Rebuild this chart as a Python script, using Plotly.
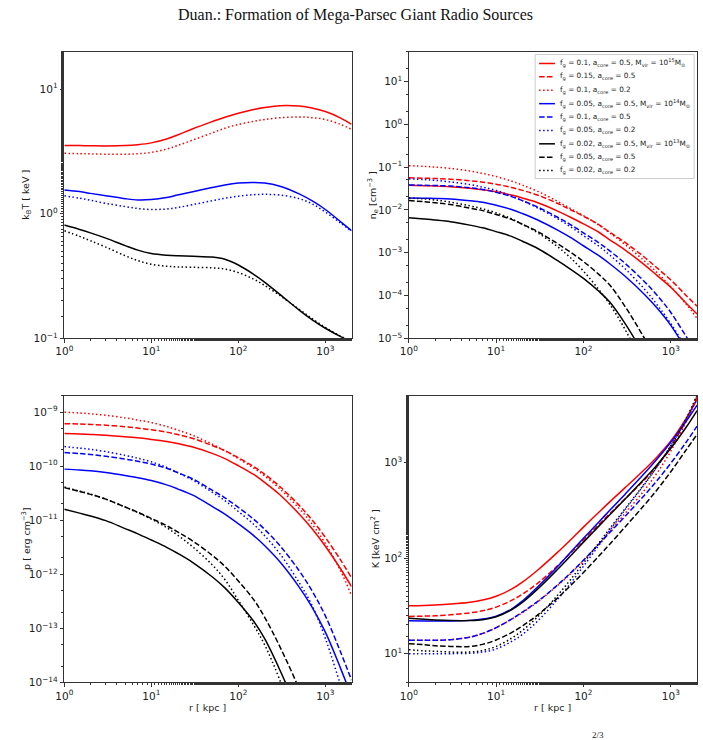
import plotly.graph_objects as go
import math

W, H = 703, 740

# ---------------- data ----------------
R_KPC = [1, 1.5, 2, 3, 5, 7, 10, 15, 20, 30, 50, 70, 100, 150, 200, 300, 500, 700, 1000, 1500, 2000]

# temperature kT [keV]
T_RED_SOLID = [3.53, 3.52, 3.51, 3.50, 3.52, 3.58, 3.70, 3.97, 4.28, 4.80, 5.48, 5.95, 6.40, 6.85, 7.10, 7.35, 7.30, 7.05, 6.60, 5.85, 5.20]
T_RED_DOT = [3.05, 3.03, 3.02, 3.00, 3.00, 3.03, 3.10, 3.30, 3.52, 3.90, 4.45, 4.85, 5.20, 5.50, 5.70, 5.88, 5.97, 5.90, 5.70, 5.20, 4.75]
T_BLUE_SOLID = [1.55, 1.505, 1.455, 1.39, 1.32, 1.29, 1.30, 1.35, 1.41, 1.50, 1.62, 1.70, 1.76, 1.78, 1.76, 1.66, 1.44, 1.27, 1.08, 0.86, 0.73]
T_BLUE_DOT = [1.39, 1.33, 1.28, 1.21, 1.14, 1.10, 1.08, 1.09, 1.12, 1.18, 1.27, 1.33, 1.38, 1.42, 1.43, 1.41, 1.32, 1.20, 1.03, 0.84, 0.72]
T_BLACK_SOLID = [0.81, 0.747, 0.701, 0.636, 0.554, 0.5095, 0.4795, 0.464, 0.4587, 0.455, 0.448, 0.4305, 0.387, 0.326, 0.2826, 0.2252, 0.1683, 0.1413, 0.1203, 0.1031, 0.0938]
T_BLACK_DOT = [0.73, 0.657, 0.606, 0.539, 0.46, 0.42, 0.3925, 0.3784, 0.374, 0.371, 0.3674, 0.3589, 0.3365, 0.298, 0.2655, 0.2204, 0.1707, 0.1442, 0.122, 0.1037, 0.094]

# electron density n_e [cm^-3]
N_RED_SOLID = [0.0375, 0.0368, 0.036, 0.0346, 0.032, 0.0296, 0.0265, 0.0222, 0.019, 0.0147, 0.0095, 0.0068, 0.0047, 0.0030, 0.0020, 0.00115, 5.2e-4, 2.9e-4, 1.55e-4, 6.6e-5, 3.7e-5]
N_RED_DASH = [0.056, 0.055, 0.054, 0.052, 0.048, 0.0444, 0.0398, 0.0333, 0.0285, 0.022, 0.0143, 0.0102, 0.0071, 0.0045, 0.0030, 0.00173, 7.8e-4, 4.35e-4, 2.3e-4, 1.0e-4, 5.6e-5]
N_RED_DOT = [0.108, 0.104, 0.100, 0.093, 0.081, 0.071, 0.060, 0.047, 0.038, 0.027, 0.0160, 0.0109, 0.0073, 0.0044, 0.0029, 0.00155, 6.4e-4, 3.4e-4, 1.6e-4, 6.3e-5, 2.9e-5]
N_BLUE_SOLID = [0.019, 0.0188, 0.0185, 0.018, 0.0164, 0.015, 0.0128, 0.0102, 0.0082, 0.0058, 0.0034, 0.0023, 0.00145, 8.5e-4, 5.5e-4, 2.8e-4, 1.05e-4, 5.0e-5, 2.0e-5, 5.5e-6, 2.2e-6]
N_BLUE_DASH = [0.038, 0.0376, 0.037, 0.036, 0.0328, 0.030, 0.0256, 0.0204, 0.0164, 0.0116, 0.0068, 0.0046, 0.0029, 0.0017, 0.0011, 5.6e-4, 2.1e-4, 1.0e-4, 4.0e-5, 1.1e-5, 4.4e-6]
N_BLUE_DOT = [0.053, 0.051, 0.049, 0.045, 0.039, 0.034, 0.0285, 0.021, 0.0165, 0.011, 0.0063, 0.0041, 0.0025, 0.00142, 8.8e-4, 4.2e-4, 1.4e-4, 6.0e-5, 2.2e-5, 6.0e-6, 2.4e-6]
N_BLACK_SOLID = [0.0065, 0.0061, 0.0058, 0.0053, 0.0044, 0.0038, 0.0031, 0.0024, 0.00185, 0.00125, 6.6e-4, 4.2e-4, 2.5e-4, 1.25e-4, 7.0e-5, 2.2e-5, 4.0e-6, 1.3e-6, 3.5e-7, 7e-8, 2e-8]
N_BLACK_DASH = [0.0165, 0.0155, 0.0147, 0.0133, 0.011, 0.0096, 0.0078, 0.0060, 0.0046, 0.0031, 0.00165, 0.00105, 6.2e-4, 3.1e-4, 1.75e-4, 5.5e-5, 1.0e-5, 3.2e-6, 9e-7, 1.8e-7, 5e-8]
N_BLACK_DOT = [0.019, 0.018, 0.017, 0.0152, 0.0124, 0.0106, 0.0085, 0.0062, 0.0046, 0.0029, 0.0014, 7.8e-4, 3.7e-4, 1.37e-4, 6.2e-5, 1.6e-5, 2.1e-6, 5e-7, 1e-7, 1.5e-8, 4e-9]

# pressure p [erg cm^-3]
P_RED_SOLID = [4.0e-10, 3.93e-10, 3.85e-10, 3.72e-10, 3.5e-10, 3.33e-10, 3.12e-10, 2.85e-10, 2.62e-10, 2.25e-10, 1.72e-10, 1.38e-10, 1.02e-10, 7.0e-11, 5.0e-11, 2.96e-11, 1.3e-11, 7.0e-12, 3.3e-12, 1.25e-12, 5.9e-13]
P_RED_DASH = [6.1e-10, 6.0e-10, 5.9e-10, 5.7e-10, 5.35e-10, 5.05e-10, 4.7e-10, 4.25e-10, 3.85e-10, 3.25e-10, 2.4e-10, 1.93e-10, 1.43e-10, 9.8e-11, 7.1e-11, 4.2e-11, 1.88e-11, 1.02e-11, 4.8e-12, 1.82e-12, 8.6e-13]
P_RED_DOT = [1.0e-9, 9.6e-10, 9.3e-10, 8.7e-10, 7.8e-10, 7.1e-10, 6.4e-10, 5.4e-10, 4.65e-10, 3.7e-10, 2.55e-10, 1.93e-10, 1.38e-10, 9.2e-11, 6.6e-11, 3.8e-11, 1.65e-11, 8.6e-12, 3.7e-12, 1.15e-12, 4.0e-13]
P_BLUE_SOLID = [8.8e-11, 8.5e-11, 8.2e-11, 7.6e-11, 6.7e-11, 6.1e-11, 5.4e-11, 4.5e-11, 3.8e-11, 2.9e-11, 1.8e-11, 1.3e-11, 8.6e-12, 5.2e-12, 3.4e-12, 1.7e-12, 5.8e-13, 2.5e-13, 8.5e-14, 1.8e-14, 5.5e-15]
P_BLUE_DASH = [1.78e-10, 1.71e-10, 1.64e-10, 1.52e-10, 1.35e-10, 1.23e-10, 1.09e-10, 9.1e-11, 7.6e-11, 5.8e-11, 3.6e-11, 2.6e-11, 1.72e-11, 1.04e-11, 6.8e-12, 3.4e-12, 1.16e-12, 5.0e-13, 1.7e-13, 3.6e-14, 1.1e-14]
P_BLUE_DOT = [2.3e-10, 2.15e-10, 2.05e-10, 1.85e-10, 1.58e-10, 1.4e-10, 1.2e-10, 9.5e-11, 7.6e-11, 5.5e-11, 3.3e-11, 2.3e-11, 1.45e-11, 8.4e-12, 5.2e-12, 2.4e-12, 7.0e-13, 2.7e-13, 6.5e-14, 9e-15, 2.5e-15]
P_BLACK_SOLID = [1.6e-11, 1.35e-11, 1.2e-11, 9.8e-12, 7.0e-12, 5.6e-12, 4.3e-12, 3.15e-12, 2.45e-12, 1.65e-12, 9.0e-13, 5.6e-13, 3.0e-13, 1.35e-13, 6.5e-14, 1.7e-14, 2.5e-15, 6e-16, 1.2e-16, 2e-17, 6e-18]
P_BLACK_DASH = [4.0e-11, 3.4e-11, 3.0e-11, 2.45e-11, 1.75e-11, 1.4e-11, 1.08e-11, 7.9e-12, 6.1e-12, 4.1e-12, 2.25e-12, 1.4e-12, 7.5e-13, 3.4e-13, 1.62e-13, 4.6e-14, 7.5e-15, 1.8e-15, 3.5e-16, 6e-17, 1.8e-17]
P_BLACK_DOT = [4.1e-11, 3.45e-11, 3.05e-11, 2.45e-11, 1.75e-11, 1.38e-11, 1.05e-11, 7.3e-12, 5.3e-12, 3.2e-12, 1.5e-12, 8.0e-13, 3.3e-13, 1.15e-13, 5.0e-14, 1.1e-14, 1.0e-15, 2e-16, 3e-17, 4e-18, 1e-18]

# entropy K [keV cm^2]
K_RED_SOLID = [31.8, 32.0, 32.3, 33.0, 34.5, 36.4, 39.9, 47.3, 56.0, 75, 114, 153, 211, 302, 388, 546, 847, 1153, 1679, 2904, 4603]
K_RED_DASH = [24.5, 24.7, 24.9, 25.5, 26.7, 28.1, 30.7, 36.1, 41.9, 54.7, 82.4, 111.5, 155, 225, 292, 418, 662, 927, 1449, 2773, 4932]
K_RED_DOT = [13.8, 13.8, 13.8, 14.0, 14.9, 16.2, 18.7, 22.9, 26.9, 34.9, 51.3, 67.6, 94, 141, 191, 294, 515, 785, 1318, 2679, 4764]
K_BLUE_SOLID = [22.1, 22.0, 22.0, 22.0, 22.3, 23.0, 24.7, 29.3, 35.6, 50.1, 80.5, 113, 161, 239, 316, 467, 771, 1094, 1633, 2698, 3990]
K_BLUE_DASH = [13.8, 13.8, 13.8, 14.0, 14.9, 16.3, 18.7, 23.0, 27.2, 35.3, 51.9, 68.9, 95, 140, 185, 274, 456, 653, 984, 1633, 2410]
K_BLUE_DOT = [10.0, 10.0, 10.0, 10.0, 10.1, 10.4, 11.2, 13.4, 15.9, 22.0, 36.7, 53.5, 82.2, 136, 195, 321, 592, 910, 1500, 2812, 4592]
K_BLACK_SOLID = [23.5, 22.9, 22.5, 22.2, 22.2, 22.7, 24.3, 28.8, 34.4, 47.6, 75.5, 104, 147, 216, 284, 415, 675, 951, 1409, 2339, 3499]
K_BLACK_DASH = [12.7, 12.4, 12.1, 11.9, 11.9, 12.5, 13.9, 16.6, 19.5, 25.5, 37.9, 50.8, 70.8, 105, 140, 212, 361, 522, 802, 1358, 1972]
K_BLACK_DOT = [11.0, 10.7, 10.6, 10.4, 10.4, 10.8, 11.9, 14.5, 17.5, 24.4, 40.4, 58.5, 88.7, 144, 204, 329, 601, 916, 1500, 2871, 5100]

LEGEND_LABELS = [
    "f<sub>g</sub> = 0.1, a<sub>core</sub> = 0.5, M<sub>vir</sub> = 10<sup>15</sup>M<sub>⊙</sub>",
    "f<sub>g</sub> = 0.15, a<sub>core</sub> = 0.5",
    "f<sub>g</sub> = 0.1, a<sub>core</sub> = 0.2",
    "f<sub>g</sub> = 0.05, a<sub>core</sub> = 0.5, M<sub>vir</sub> = 10<sup>14</sup>M<sub>⊙</sub>",
    "f<sub>g</sub> = 0.1, a<sub>core</sub> = 0.5",
    "f<sub>g</sub> = 0.05, a<sub>core</sub> = 0.2",
    "f<sub>g</sub> = 0.02, a<sub>core</sub> = 0.5, M<sub>vir</sub> = 10<sup>13</sup>M<sub>⊙</sub>",
    "f<sub>g</sub> = 0.05, a<sub>core</sub> = 0.5",
    "f<sub>g</sub> = 0.02, a<sub>core</sub> = 0.2",
]

TITLE = "Duan.: Formation of Mega-Parsec Giant Radio Sources"

# ---------------- styles ----------------
RED, BLUE, BLACK = "#ff0000", "#0000ff", "#000000"
DASHES = {"solid": "solid", "dash": "5.5px,2.4px", "dot": "1.5px,2.5px"}
LW = 1.5
FONT = "DejaVu Sans"
AXC = "#333333"

panels = {
    1: [(T_RED_SOLID, RED, "solid"), (T_RED_DOT, RED, "dot"),
        (T_BLUE_SOLID, BLUE, "solid"), (T_BLUE_DOT, BLUE, "dot"),
        (T_BLACK_SOLID, BLACK, "solid"), (T_BLACK_DOT, BLACK, "dot")],
    2: [(N_RED_SOLID, RED, "solid"), (N_RED_DASH, RED, "dash"), (N_RED_DOT, RED, "dot"),
        (N_BLUE_SOLID, BLUE, "solid"), (N_BLUE_DASH, BLUE, "dash"), (N_BLUE_DOT, BLUE, "dot"),
        (N_BLACK_SOLID, BLACK, "solid"), (N_BLACK_DASH, BLACK, "dash"), (N_BLACK_DOT, BLACK, "dot")],
    3: [(P_RED_SOLID, RED, "solid"), (P_RED_DASH, RED, "dash"), (P_RED_DOT, RED, "dot"),
        (P_BLUE_SOLID, BLUE, "solid"), (P_BLUE_DASH, BLUE, "dash"), (P_BLUE_DOT, BLUE, "dot"),
        (P_BLACK_SOLID, BLACK, "solid"), (P_BLACK_DASH, BLACK, "dash"), (P_BLACK_DOT, BLACK, "dot")],
    4: [(K_RED_SOLID, RED, "solid"), (K_RED_DASH, RED, "dash"), (K_RED_DOT, RED, "dot"),
        (K_BLUE_SOLID, BLUE, "solid"), (K_BLUE_DASH, BLUE, "dash"), (K_BLUE_DOT, BLUE, "dot"),
        (K_BLACK_SOLID, BLACK, "solid"), (K_BLACK_DASH, BLACK, "dash"), (K_BLACK_DOT, BLACK, "dot")],
}

fig = go.Figure()
for i, series in panels.items():
    sfx = "" if i == 1 else str(i)
    for vals, col, d in series:
        fig.add_trace(go.Scatter(
            x=R_KPC, y=vals, mode="lines", xaxis="x" + sfx, yaxis="y" + sfx,
            line=dict(color=col, width=LW, dash=DASHES[d], shape="spline", smoothing=1.0),
            showlegend=False, hoverinfo="skip"))


def px(x):
    return x / W


def py(y):
    return 1 - y / H


# panel pixel boxes (left, right, top, bottom)
boxes = {1: (56, 347, 52, 341), 2: (405, 697, 52, 341),
         3: (56, 347, 399, 688), 4: (405, 697, 399, 688)}


def sup_label(e):
    s = str(e).replace("-", "−")
    return "10<sup>%s</sup>" % s


yspec = {
    1: (-1, math.log10(20), [-1, 0, 1]),
    2: (-5, math.log10(50), [-5, -4, -3, -2, -1, 0, 1]),
    3: (-14, math.log10(2e-9), [-14, -13, -12, -11, -10, -9]),
    4: (math.log10(5), math.log10(5000), [1, 2, 3]),
}

tickfont = dict(family=FONT, size=10.5, color="#222222")
common = dict(type="log", showline=True, linecolor=AXC, linewidth=1, mirror=True,
              ticks="outside", ticklen=3.5, tickwidth=0.8, tickcolor=AXC,
              showgrid=False, zeroline=False, tickfont=tickfont,
              minor=dict(ticks="outside", ticklen=2, tickwidth=0.6, tickcolor=AXC, showgrid=False))

layout = {}
for i, (l, r, t, b) in boxes.items():
    sfx = "" if i == 1 else str(i)
    ylo, yhi, ye = yspec[i]
    layout["xaxis" + sfx] = dict(common, domain=[px(l), px(r)], anchor="y" + sfx,
                                 range=[0, math.log10(2000)],
                                 tickmode="array", tickvals=[1, 10, 100, 1000],
                                 ticktext=[sup_label(e) for e in [0, 1, 2, 3]])
    layout["yaxis" + sfx] = dict(common, domain=[py(b), py(t)], anchor="x" + sfx,
                                 range=[ylo, yhi], tickmode="array",
                                 tickvals=[10 ** e for e in ye],
                                 ticktext=[sup_label(e) for e in ye])

fig.update_layout(**layout)

annotations = []
shapes = []
lab_font = dict(family=FONT, size=9.5, color="#222222")
# y-axis titles
ytitles = {1: ("k<sub>B</sub>T [ keV ]", 18), 2: ("n<sub>e</sub> [cm<sup>−3</sup> ]", 369),
           3: ("p [ erg cm<sup>−3</sup>]", 17), 4: ("K [keV cm<sup>2</sup> ]", 371)}
for i, (txt, xp) in ytitles.items():
    l, r, t, b = boxes[i]
    annotations.append(dict(text=txt, x=px(xp), y=py((t + b) / 2), xref="paper", yref="paper",
                            textangle=-90, showarrow=False, font=lab_font,
                            xanchor="center", yanchor="middle"))
for i in (3, 4):
    l, r, t, b = boxes[i]
    annotations.append(dict(text="r [ kpc ]", x=px((l + r) / 2), y=py(713), xref="paper", yref="paper",
                            showarrow=False, font=lab_font, xanchor="center", yanchor="middle"))

# title
annotations.append(dict(text=TITLE, x=px(351), y=py(15), xref="paper", yref="paper", showarrow=False,
                        font=dict(family="Liberation Serif", size=16, color="#111111"),
                        xanchor="center", yanchor="middle"))
# clipped caption fragment at the bottom
annotations.append(dict(text="2/3", x=px(597), y=py(741), xref="paper", yref="paper", showarrow=False,
                        font=dict(family="Liberation Serif", size=9, color="#222222"),
                        xanchor="center", yanchor="middle"))

# manual legend in panel 2
leg_l, leg_r, leg_t, leg_b = 533, 694, 55, 180
shapes.append(dict(type="rect", xref="paper", yref="paper", x0=px(leg_l), x1=px(leg_r),
                   y0=py(leg_b), y1=py(leg_t), line=dict(color="#cccccc", width=1),
                   fillcolor="rgba(255,255,255,0.9)", layer="above"))
leg_styles = [(s[1], s[2]) for s in panels[2]]
for k, (lab, (col, d)) in enumerate(zip(LEGEND_LABELS, leg_styles)):
    yy = 64 + k * 13.5
    shapes.append(dict(type="line", xref="paper", yref="paper", x0=px(537), x1=px(553),
                       y0=py(yy), y1=py(yy), line=dict(color=col, width=LW, dash=DASHES[d]),
                       layer="above"))
    annotations.append(dict(text=lab, x=px(556), y=py(yy), xref="paper", yref="paper",
                            showarrow=False, font=dict(family=FONT, size=7.3, color="#222222"),
                            xanchor="left", yanchor="middle"))

fig.update_layout(width=W, height=H, margin=dict(l=0, r=0, t=0, b=0),
                  paper_bgcolor="white", plot_bgcolor="white",
                  annotations=annotations, shapes=shapes, showlegend=False)

fig.write_html("out.html")
